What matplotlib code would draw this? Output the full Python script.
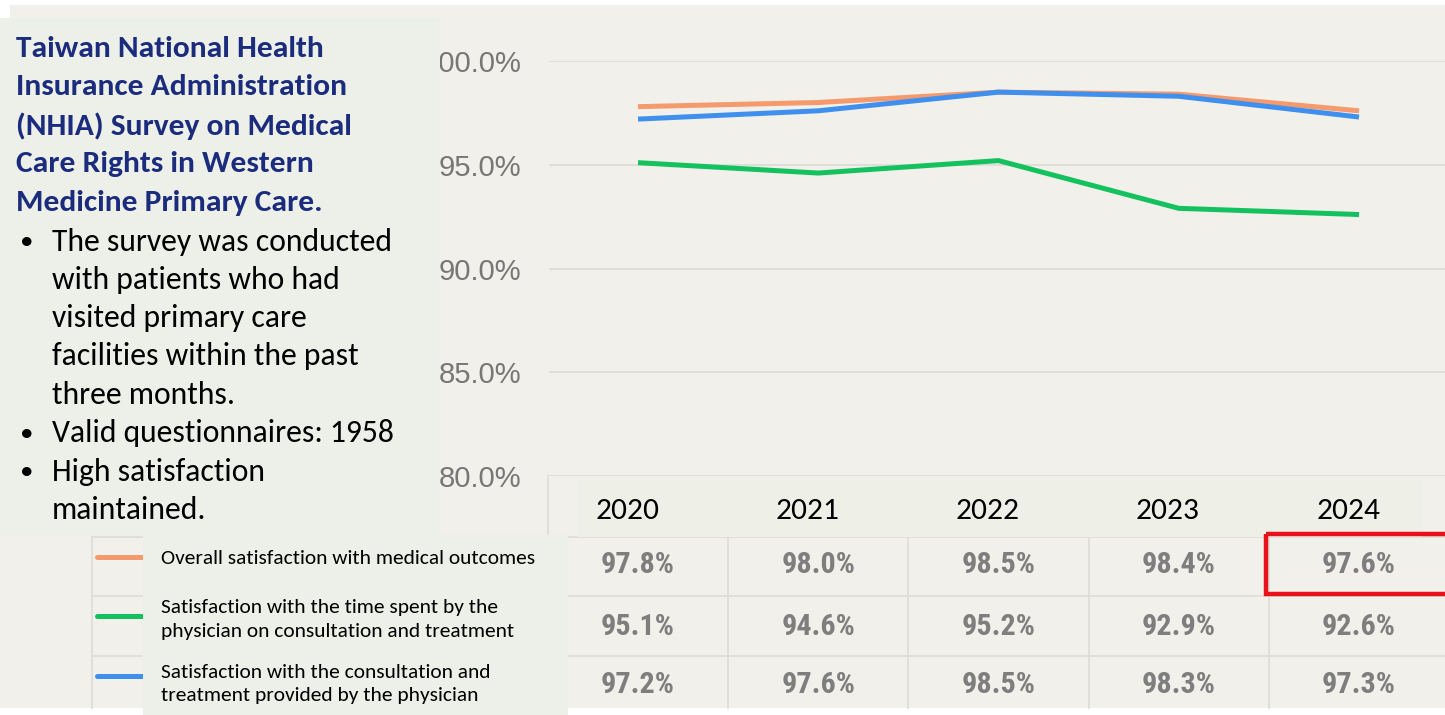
import matplotlib
matplotlib.use('Agg')
import matplotlib.pyplot as plt
from matplotlib import font_manager
from matplotlib.patches import Rectangle
from matplotlib.transforms import blended_transform_factory

# ---------------- data ----------------
years = ['2020', '2021', '2022', '2023', '2024']
overall = [97.8, 98.0, 98.5, 98.4, 97.6]
time_spent = [95.1, 94.6, 95.2, 92.9, 92.6]
consultation = [97.2, 97.6, 98.5, 98.3, 97.3]
series_values = [overall, time_spent, consultation]
series_labels = ['Overall satisfaction with medical outcomes',
                 'Satisfaction with the time spent by the\nphysician on consultation and treatment',
                 'Satisfaction with the consultation and\ntreatment provided by the physician']
series_colors = ['#f59a6c', '#14c15f', '#3f8fef']
y_ticks = [80, 85, 90, 95, 100]
title_lines = ['Taiwan National Health', 'Insurance Administration',
               '(NHIA) Survey on Medical', 'Care Rights in Western',
               'Medicine Primary Care.']
body_lines = [('•', 'The survey was conducted'), ('', 'with patients who had'),
              ('', 'visited primary care'), ('', 'facilities within the past'),
              ('', 'three months.'), ('•', 'Valid questionnaires: 1958'),
              ('•', 'High satisfaction'), ('', 'maintained.')]


def pick(*names):
    for n in names:
        try:
            font_manager.findfont(font_manager.FontProperties(family=n), fallback_to_default=False)
            return n
        except Exception:
            pass
    return 'DejaVu Sans'

CAL = pick('Carlito', 'Lato', 'Open Sans', 'DejaVu Sans')
ARIAL = pick('Liberation Sans', 'DejaVu Sans')
NARROW = pick('Liberation Sans Narrow', 'Arial Narrow', 'Roboto Condensed',
              'DejaVu Sans Condensed', 'Roboto', 'Liberation Sans')

W, H = 1445, 715
fig = plt.figure(figsize=(W / 100, H / 100), dpi=100, facecolor='#f1f0ea')
renderer = fig.canvas.get_renderer()

# chart axes (pixel box: x 549..1445, y 61..476)
ax = fig.add_axes([549 / W, (H - 476) / H, (W - 549) / W, (476 - 61) / H])
ax.set_facecolor('none')
x = list(range(len(years)))
for vals, c in zip(series_values, series_colors):
    ax.plot(x, vals, color=c, lw=3.6, solid_capstyle='butt', zorder=3)
ax.set_xlim(-0.494, 4.477)
ax.set_ylim(80, 100)
ax.set_yticks(y_ticks)
ax.set_yticklabels([f'{v:.1f}%' for v in y_ticks])
ax.set_xticks([])
ax.grid(axis='y', color='#dcdcd8', lw=1.3)
ax.set_axisbelow(True)
for s in ax.spines.values():
    s.set_visible(False)
ax.tick_params(axis='y', length=0, pad=20)

# overlay axes in pixel coordinates
ov = fig.add_axes([0, 0, 1, 1], zorder=10)
ov.set_xlim(0, W)
ov.set_ylim(H, 0)
ov.axis('off')
ov.patch.set_visible(False)
blend = blended_transform_factory(ax.transData, ov.transData)


def fit(t, target):
    w = t.get_window_extent(renderer).width
    return t.get_fontsize() * target / w

# white strips
ov.add_patch(Rectangle((0, 0), W, 5, fc='white', ec='none', zorder=1))
ov.add_patch(Rectangle((0, 0), 10, 18, fc='white', ec='none', zorder=1))
ov.add_patch(Rectangle((0, 708), W, 10, fc='white', ec='none', zorder=1))

# table lines
lc = '#dedfda'
for yy in [537, 596, 656]:
    ov.plot([92, W], [yy, yy], color=lc, lw=1.3, zorder=2)
ov.plot([92, 92], [537, 708], color=lc, lw=1.3, zorder=2)
for b in [-0.5, 0.5, 1.5, 2.5, 3.5]:
    ov.plot([b, b], [476 if b < 0 else 537, 708], color=lc, lw=1.3, zorder=2, transform=blend)

# boxes
ov.add_patch(Rectangle((0, 18), 439.5, 518, fc='#edf0e8', ec='none', zorder=3))
ov.add_patch(Rectangle((578, 480), 1422 - 578, 57, fc='#eef0e8', ec='none', zorder=3))
ov.add_patch(Rectangle((143, 535), 568 - 143, 180, fc='#edf0e9', ec='none', zorder=5))

# tick label styling
for lab in ax.get_yticklabels():
    lab.set_fontfamily(ARIAL)
    lab.set_color('#777777')
    lab.set_fontsize(20)
fs_tick = fit(ax.get_yticklabels()[3], 83)
for lab in ax.get_yticklabels():
    lab.set_fontsize(fs_tick)

# title
ys_title = [49, 87, 126, 164, 203]
tt = ov.text(16, ys_title[0], title_lines[0], fontsize=20, fontweight='bold', family=CAL,
             color='#1b2c7d', va='center', ha='left', zorder=6)
fs_title = fit(tt, 308)
tt.remove()
for s, yy in zip(title_lines, ys_title):
    ov.text(16, yy, s, fontsize=fs_title, fontweight='bold', family=CAL,
            color='#1b2c7d', va='center', ha='left', zorder=6)

# body
ys_body = [242, 280, 318, 356, 395, 433, 472, 510]
tb = ov.text(52, 0, body_lines[0][1], fontsize=20, family=CAL)
fs_body = fit(tb, 340)
tb.remove()
for (bul, s), yy in zip(body_lines, ys_body):
    if bul:
        ov.text(20, yy, bul, fontsize=fs_body * 0.85, family=CAL, color='black', va='center', ha='left', zorder=6)
    ov.text(52, yy, s, fontsize=fs_body, family=CAL, color='black', va='center', ha='left', zorder=6)

# year header
ty = ov.text(0, 0, years[0], fontsize=20, family=CAL)
fs_year = fit(ty, 64)
ty.remove()
for i, yr in enumerate(years):
    ov.text(i - 0.06, 511, yr, fontsize=fs_year, family=CAL, color='black',
            ha='center', va='center', transform=blend, zorder=6)

# legend rows
row_centers = [565, 627, 685]
leg_line_y = [557, 616, 676]
leg_text_y = [558, 619, 684]
tl = ov.text(0, 0, series_labels[0], fontsize=12, family=CAL)
fs_leg = fit(tl, 373)
tl.remove()
for lab, c, ly, ty_ in zip(series_labels, series_colors, leg_line_y, leg_text_y):
    ov.plot([97, 150], [ly, ly], color=c, lw=3.6, solid_capstyle='round', zorder=4)
    ov.text(161, ty_, lab, fontsize=fs_leg, family=CAL, color='black',
            ha='left', va='center', linespacing=1.5, zorder=6)

# table values
tv = ov.text(0, 0, '97.8%', fontsize=20, family=NARROW, fontweight='bold')
fs_val = fit(tv, 74)
tv.remove()
for vals, ry in zip(series_values, row_centers):
    for i, v in enumerate(vals):
        ov.text(i, ry, f'{v:.1f}%', fontsize=fs_val, family=NARROW, fontweight='bold',
                color='#7e7e7e', ha='center', va='center', transform=blend, zorder=6)

# red highlight box
ov.add_patch(Rectangle((1266, 534), 1449 - 1266, 594 - 534, fc='none', ec='#e8121a', lw=3.2, zorder=7))

fig.savefig('out.png', dpi=100, facecolor=fig.get_facecolor())
